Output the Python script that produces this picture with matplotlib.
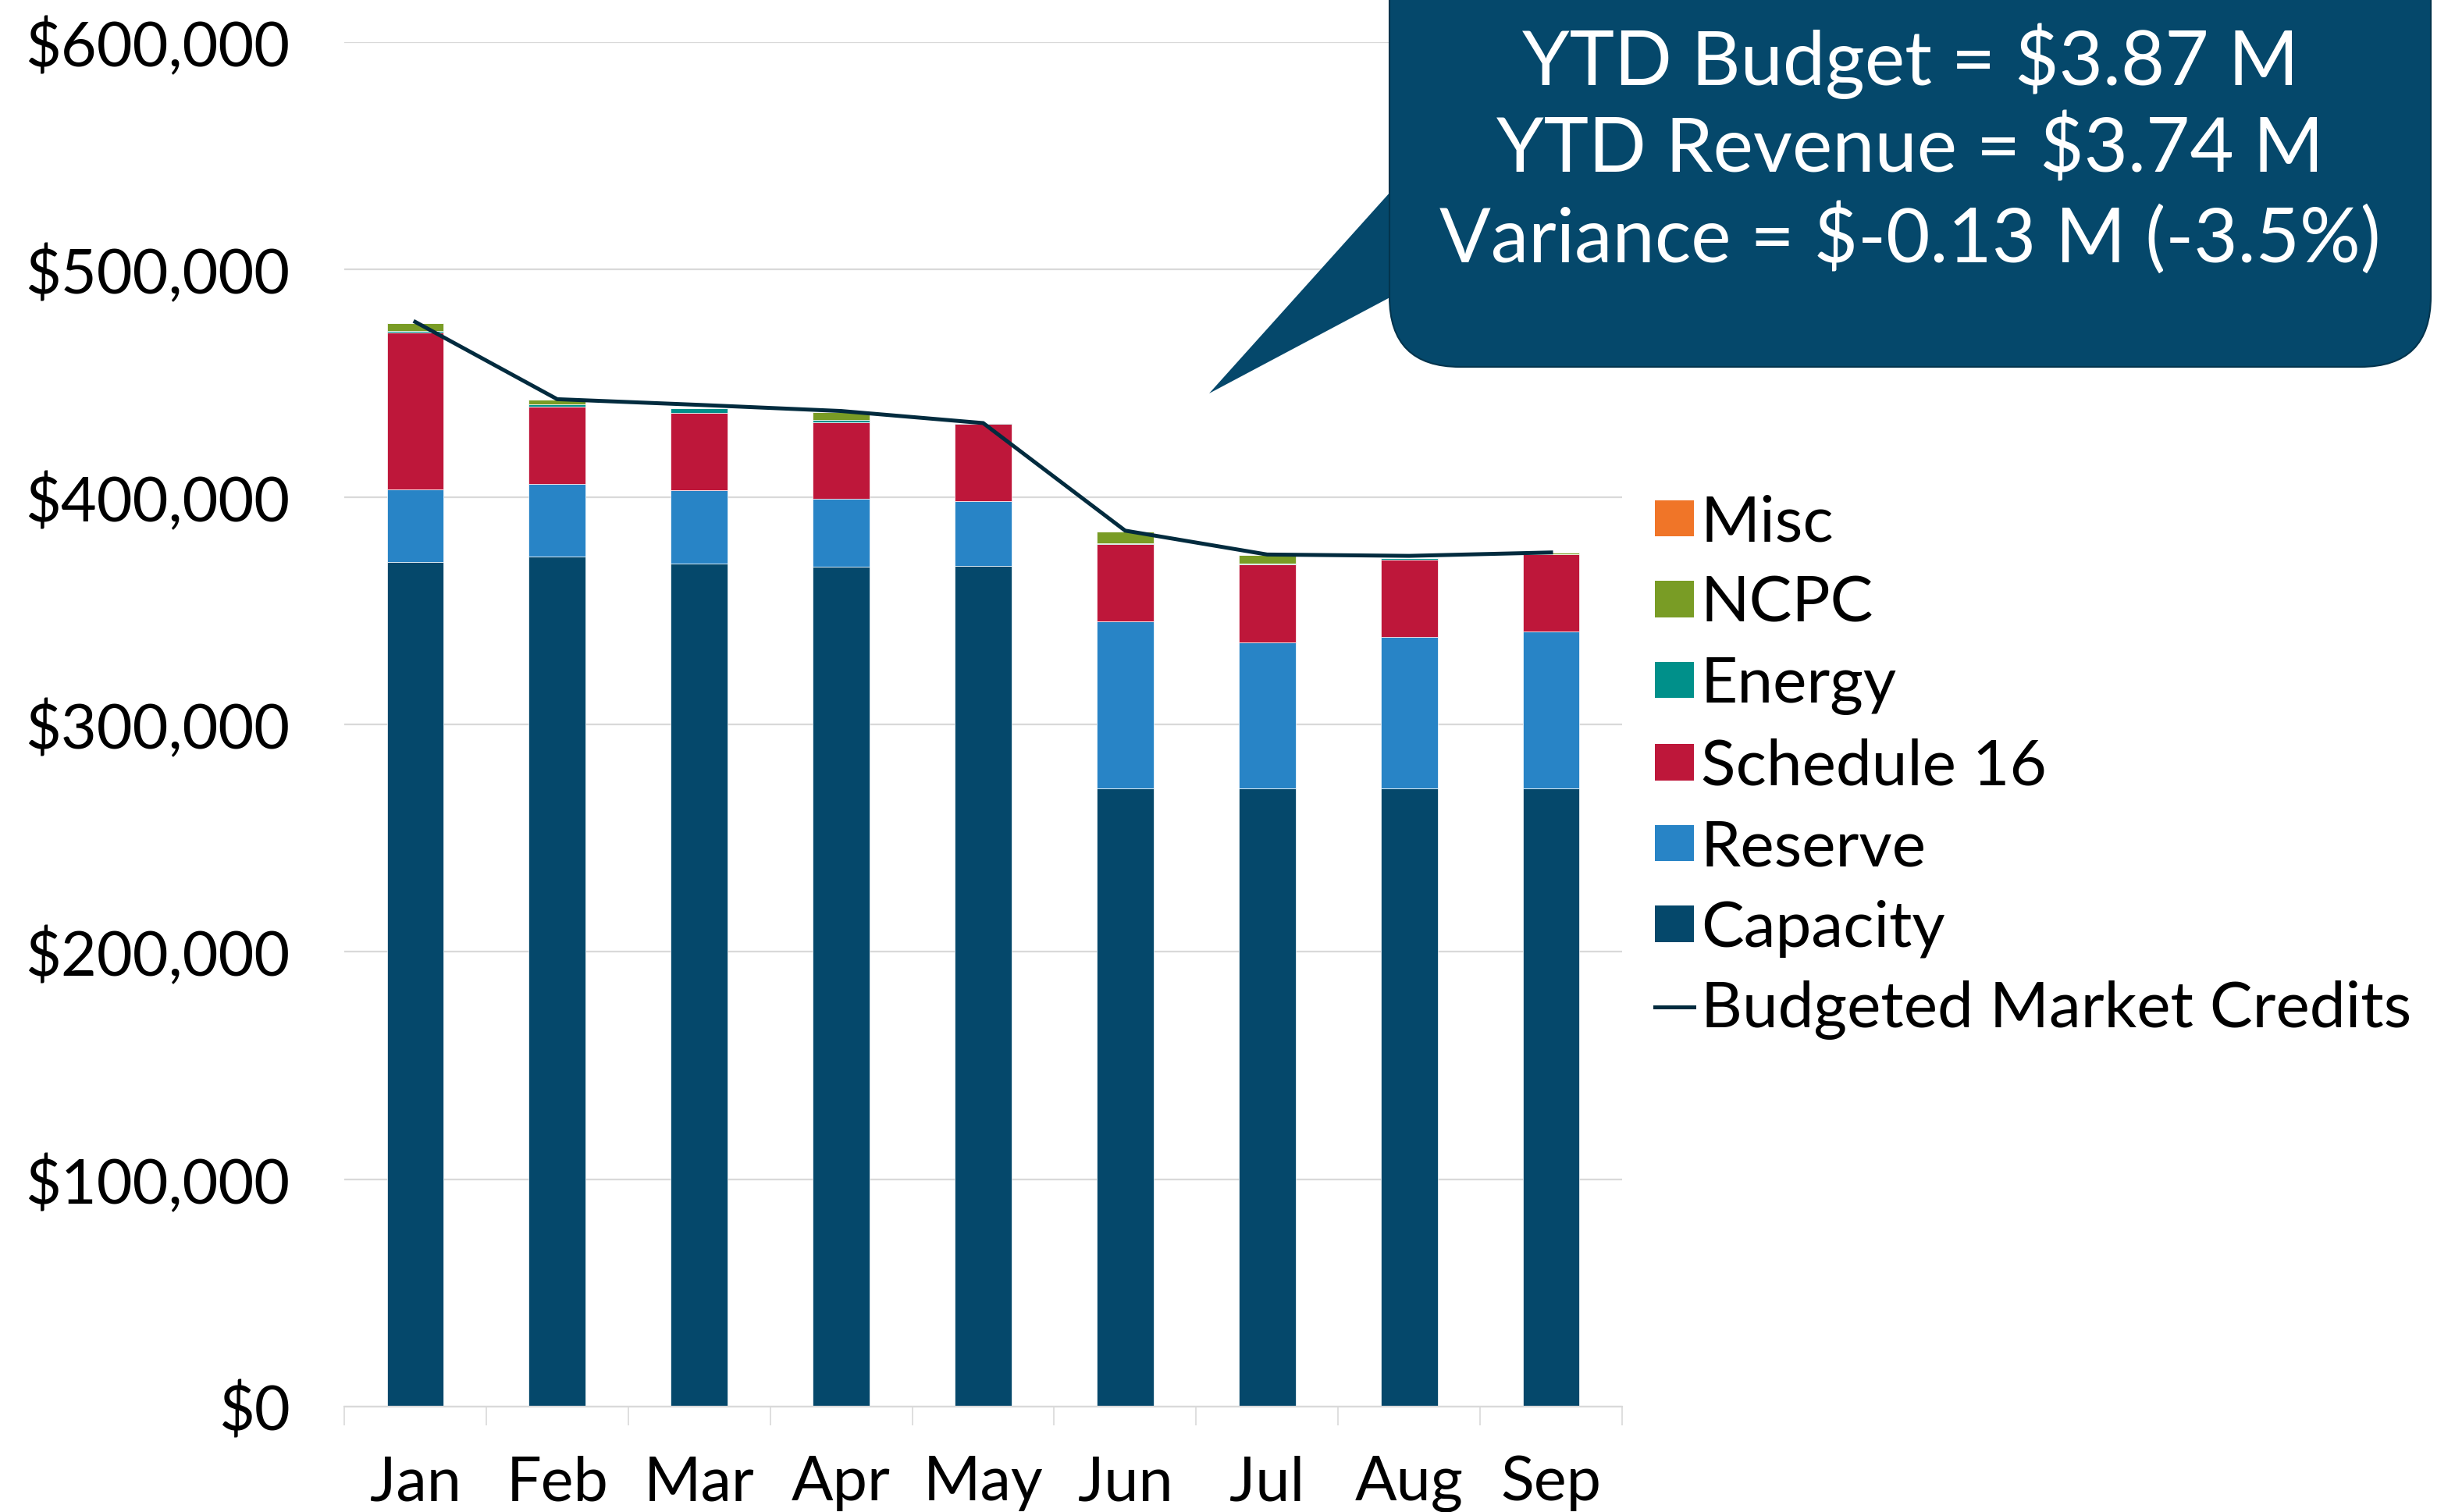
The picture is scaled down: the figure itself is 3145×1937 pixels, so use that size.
import matplotlib
matplotlib.use("Agg")
import matplotlib.pyplot as plt
import numpy as np
from matplotlib.patches import Rectangle, FancyBboxPatch, Polygon
from matplotlib.lines import Line2D
from matplotlib.ticker import FuncFormatter, MultipleLocator, FixedLocator

plt.rcParams['font.family'] = ['Lato', 'DejaVu Sans']

months = ["Jan", "Feb", "Mar", "Apr", "May", "Jun", "Jul", "Aug", "Sep"]
capacity = [371300, 373800, 370700, 369200, 369700, 271700, 271700, 271700, 271700]
reserve = [32000, 31900, 32200, 30000, 28600, 73700, 64400, 66800, 69200]
schedule16 = [68900, 34000, 33900, 33800, 34000, 33800, 34300, 33900, 33900]
energy = [800, 1000, 2200, 700, 300, 300, 400, 800, 100]
ncpc = [3600, 2000, 0, 3500, 0, 5400, 3800, 0, 500]
misc = [0, 0, 0, 0, 0, 0, 0, 0, 0]
budget = [477000, 443000, 440500, 437800, 432500, 385200, 374700, 374100, 375600]

callout_lines = ["YTD Budget = $3.87 M", "YTD Revenue = $3.74 M", "Variance = $-0.13 M (-3.5%)"]

series = [
    ("Capacity", capacity, "#05486b"),
    ("Reserve", reserve, "#2884c6"),
    ("Schedule 16", schedule16, "#be173a"),
    ("Energy", energy, "#00908a"),
    ("NCPC", ncpc, "#799c25"),
    ("Misc", misc, "#f07528"),
]
line_color = "#022b3e"

W, H = 3145, 1937
fig = plt.figure(figsize=(W / 100, H / 100), dpi=100)
ax = fig.add_axes([441 / W, 1 - 1802 / H, (2078 - 441) / W, (1802 - 54) / H])

x = np.arange(len(months))
bottom = np.zeros(len(months))
handles = {}
for name, vals, col in series:
    v = np.array(vals, dtype=float)
    ax.bar(x, v, bottom=bottom, width=0.40, color=col, edgecolor="white",
           linewidth=0.5, zorder=2)
    handles[name] = Rectangle((0, 0), 1, 1, facecolor=col, edgecolor="none")
    bottom += v

ax.plot(x, budget, color=line_color, lw=3.6, zorder=3, solid_joinstyle="miter")

ax.set_ylim(0, 600000)
ax.set_xlim(-0.5, len(months) - 0.5)
ax.yaxis.set_major_locator(MultipleLocator(100000))
ax.yaxis.set_major_formatter(FuncFormatter(lambda v, p: "${:,.0f}".format(v)))
ax.grid(axis="y", color="#d9d9d9", lw=1.6, zorder=0)
ax.set_axisbelow(True)
for s in ["left", "top", "right"]:
    ax.spines[s].set_visible(False)
ax.spines["bottom"].set_color("#d9d9d9")
ax.spines["bottom"].set_linewidth(1.6)

ax.set_xticks(x)
ax.set_xticklabels(months)
ax.xaxis.set_minor_locator(FixedLocator(np.arange(-0.5, len(months), 1.0)))
ax.tick_params(axis="x", which="major", length=0, pad=45, labelsize=57, colors="black")
ax.tick_params(axis="x", which="minor", length=17, width=1.2, color="#d9d9d9")
ax.tick_params(axis="y", which="major", length=0, pad=50, labelsize=57, colors="black")

# legend
order = ["Misc", "NCPC", "Energy", "Schedule 16", "Reserve", "Capacity"]
h = [handles[n] for n in order] + [Line2D([0], [0], color=line_color, lw=3.6)]
labels = order + ["Budgeted Market Credits"]
fig.legend(h, labels, loc="upper left", bbox_to_anchor=(2120 / W, 1 - 633 / H),
           frameon=False, fontsize=59, handlelength=0.61, handleheight=0.5,
           handletextpad=0.11, labelspacing=0.36, borderpad=0, borderaxespad=0)

# callout overlay
ov = fig.add_axes([0, 0, 1, 1], zorder=10)
ov.set_xlim(0, W)
ov.set_ylim(H, 0)
ov.axis("off")
box_col = "#05486b"
ov.add_patch(Polygon([(1790, 236), (1549, 504), (1790, 376)], closed=True,
                     facecolor=box_col, edgecolor="none"))
ov.add_patch(FancyBboxPatch((1780, -200), 3114 - 1780, 470 + 200,
                            boxstyle="round,pad=0,rounding_size=90",
                            facecolor=box_col, edgecolor="#03344d", lw=1.5))
for yy, t in zip([78, 192, 306], callout_lines):
    ov.text(2447, yy, t, color="white", fontsize=70, ha="center", va="center")

fig.savefig("out.png", dpi=100, facecolor="white")
